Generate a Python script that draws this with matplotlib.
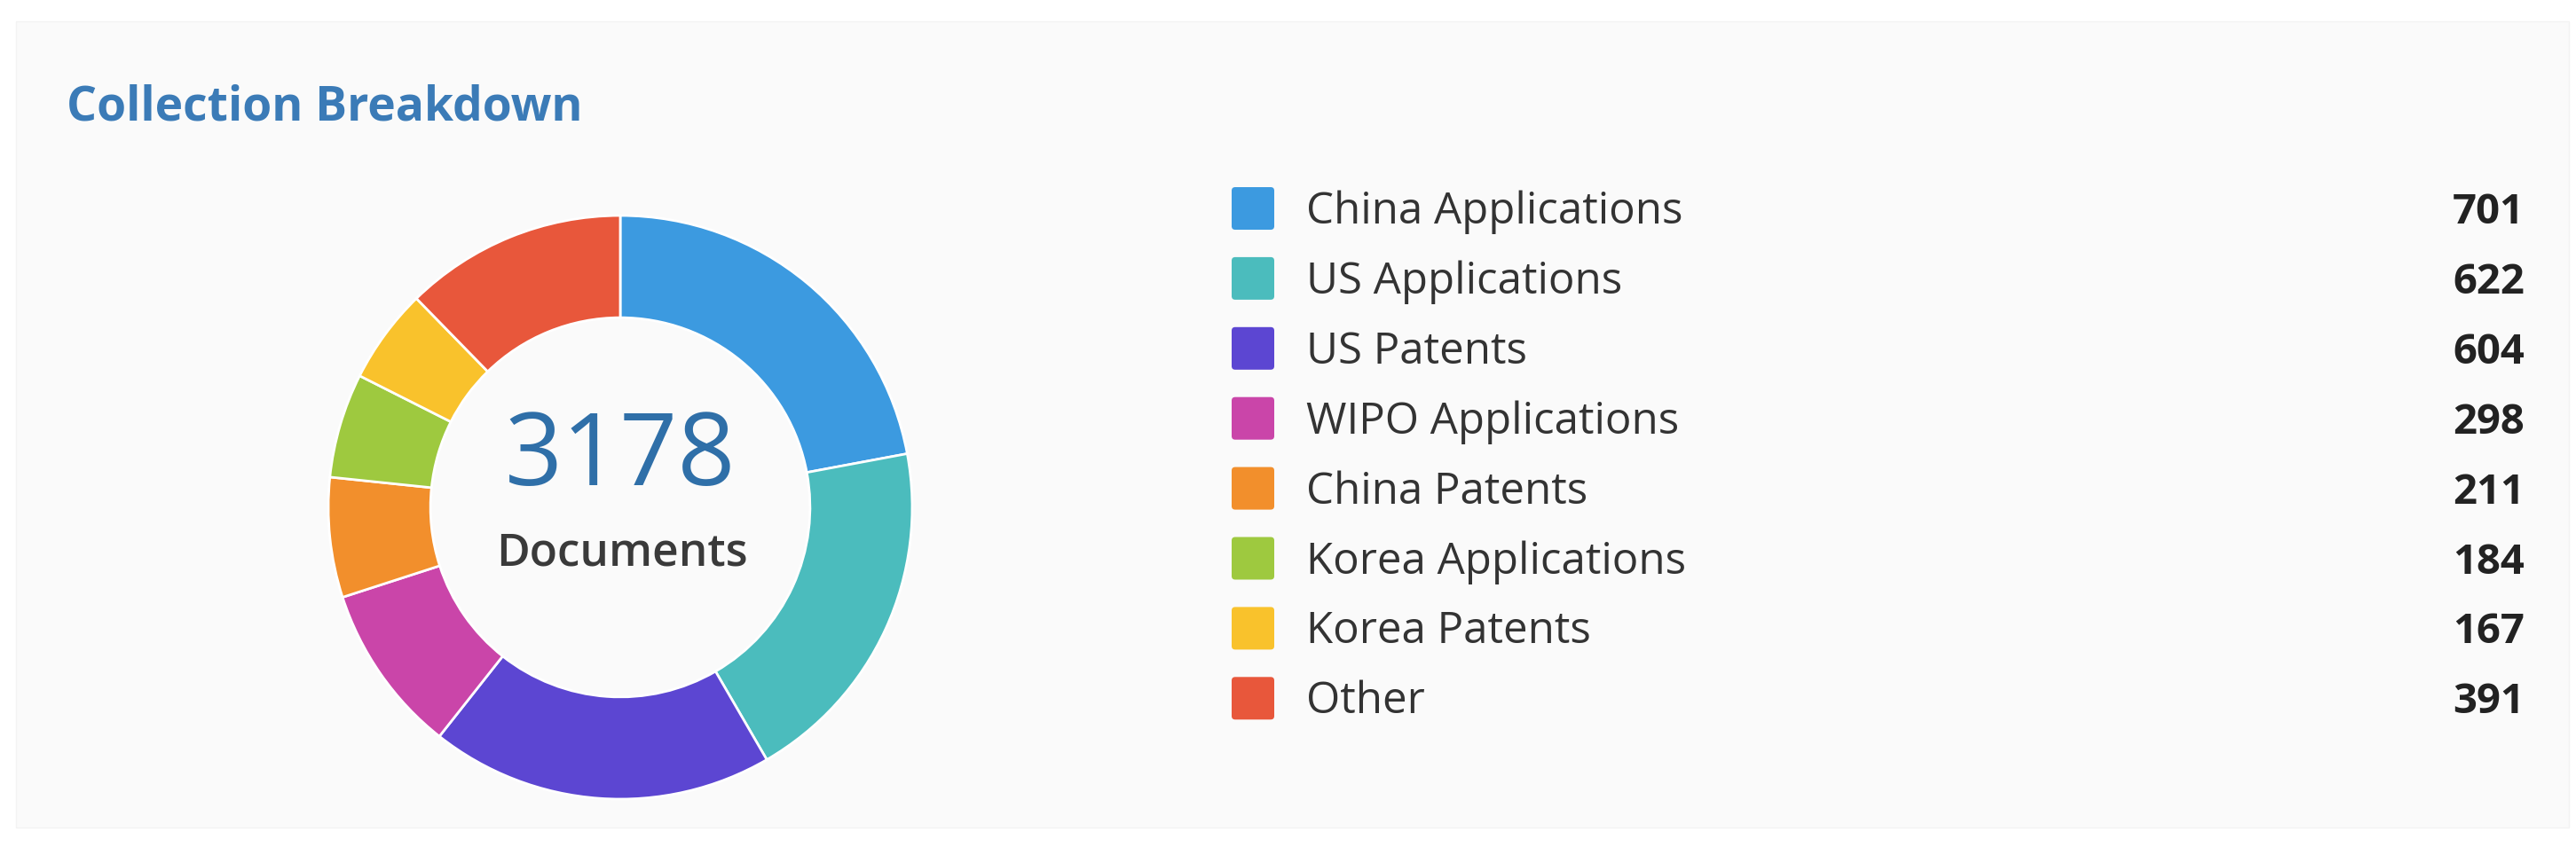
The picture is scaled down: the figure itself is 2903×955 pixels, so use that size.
import matplotlib
matplotlib.use("Agg")
import matplotlib.pyplot as plt
from matplotlib.patches import FancyBboxPatch, Rectangle

plt.rcParams['font.family'] = ['Open Sans', 'DejaVu Sans']

categories = ["China Applications", "US Applications", "US Patents", "WIPO Applications",
              "China Patents", "Korea Applications", "Korea Patents", "Other"]
counts = [701, 622, 604, 298, 211, 184, 167, 391]
colors = ["#3c9ae0", "#4bbcbd", "#5c46d2", "#ca45a9", "#f28f2c", "#9ec93f", "#f9c22c", "#e8573b"]
title = "Collection Breakdown"
center_label = "Documents"

W, H = 2903, 955
fig = plt.figure(figsize=(W / 100, H / 100), dpi=100)
fig.patch.set_facecolor("white")

# overlay axes in pixel coordinates (y down)
bg = fig.add_axes([0, 0, 1, 1])
bg.set_xlim(0, W)
bg.set_ylim(H, 0)
bg.axis("off")
bg.add_patch(Rectangle((18, 24), 2877, 909, facecolor="#fafafa", edgecolor="#f3f3f3", lw=1))

bg.text(75, 135, title, fontsize=38.5, fontweight="bold", color="#3b7bb7", va="baseline", ha="left")

# donut
cx, cy, R = 699, 572, 329
ax = fig.add_axes([(cx - R) / W, (H - cy - R) / H, 2 * R / W, 2 * R / H])
ax.pie(counts, colors=colors, startangle=90, counterclock=False, radius=1,
       wedgeprops=dict(width=0.35, edgecolor="white", linewidth=2))
ax.set_xlim(-1, 1)
ax.set_ylim(-1, 1)
ax.set_aspect("equal")
ax.axis("off")

bg.text(cx, 547, str(sum(counts)), fontsize=82, color="#2f6fa8", ha="center", va="baseline")
bg.text(cx + 2, 637, center_label, fontsize=37, fontweight="semibold", color="#3a3a3a",
        ha="center", va="baseline")

# legend
row0, step = 235, 78.9
sq = 48
for i, (name, val, c) in enumerate(zip(categories, counts, colors)):
    y = row0 + i * step
    bg.add_patch(FancyBboxPatch((1412 - sq / 2 + 4, y - sq / 2 + 4), sq - 8, sq - 8,
                                boxstyle="round,pad=4", facecolor=c, edgecolor="none"))
    bg.text(1472, y + 17, name, fontsize=35.5, color="#333333", ha="left", va="baseline")
    bg.text(2845, y + 17, str(val), fontsize=34, fontweight="bold", color="#222222",
            ha="right", va="baseline")

fig.savefig("out.png", dpi=100, facecolor="white")
